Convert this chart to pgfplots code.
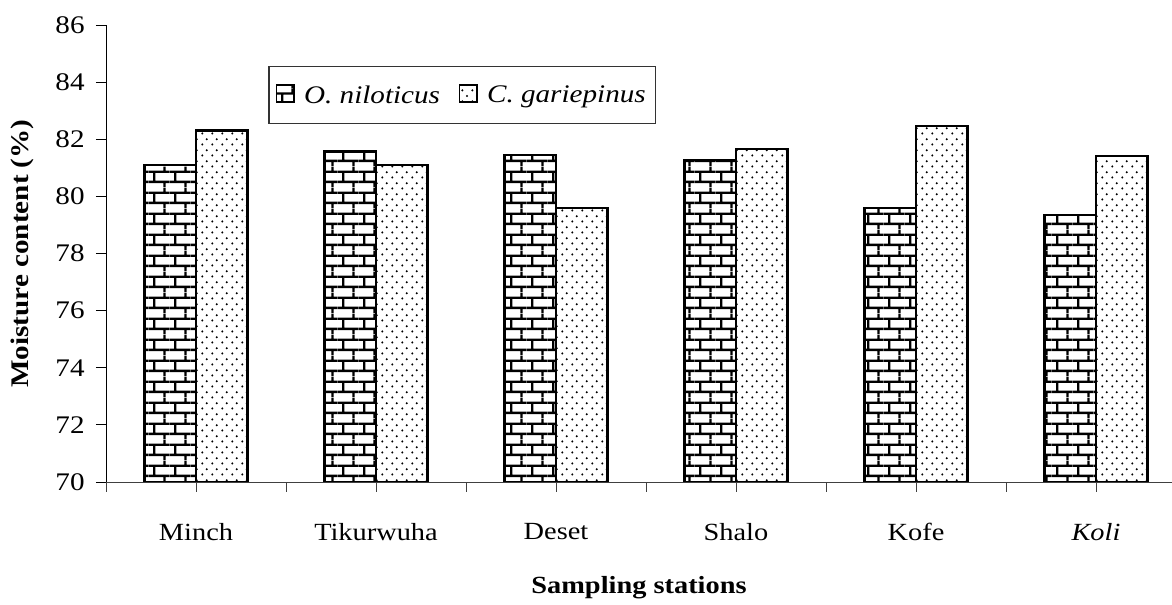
\documentclass[border=0pt]{standalone}
\usepackage{fontspec}
\setmainfont{Liberation Serif}[FakeStretch=1.15]
\usepackage{pgfplots}
\pgfplotsset{compat=1.18}
\usetikzlibrary{patterns}

\pgfdeclarepatternformonly{mybricks}{\pgfpointorigin}{\pgfpoint{16pt}{15.5pt}}{\pgfpoint{16pt}{15.5pt}}{%
  \pgfsetlinewidth{1.8pt}%
  \pgfpathmoveto{\pgfpoint{0pt}{3.875pt}}\pgfpathlineto{\pgfpoint{16pt}{3.875pt}}%
  \pgfpathmoveto{\pgfpoint{0pt}{11.625pt}}\pgfpathlineto{\pgfpoint{16pt}{11.625pt}}%
  \pgfpathmoveto{\pgfpoint{4pt}{3.875pt}}\pgfpathlineto{\pgfpoint{4pt}{11.625pt}}%
  \pgfpathmoveto{\pgfpoint{12pt}{11.625pt}}\pgfpathlineto{\pgfpoint{12pt}{15.5pt}}%
  \pgfpathmoveto{\pgfpoint{12pt}{0pt}}\pgfpathlineto{\pgfpoint{12pt}{3.875pt}}%
  \pgfusepath{stroke}%
}
\pgfdeclarepatternformonly{mydots}{\pgfpointorigin}{\pgfpoint{7.5pt}{8pt}}{\pgfpoint{7.5pt}{8pt}}{%
  \pgfpathcircle{\pgfpoint{1.875pt}{2pt}}{0.9pt}%
  \pgfpathcircle{\pgfpoint{5.625pt}{6pt}}{0.9pt}%
  \pgfusepath{fill}%
}

\begin{document}
\begin{tikzpicture}
\begin{axis}[
  at={(0,0)}, anchor=south west, scale only axis,
  width=799.5pt, height=342.75pt,
  xmin=-0.5, xmax=5.4222, ymin=70, ymax=86,
  axis lines=left, axis line style={-, line width=0.7pt},
  x axis line style={draw=black!75},
  ybar=0pt, bar width=38.6pt,
  ytick={70,72,...,86},
  tick align=outside,
  major tick length=7.5pt,
  tick style={black, line width=0.7pt},
  xtick={-0.5,0.5,...,4.5},
  xticklabels={},
  x tick style={draw=black!75},
  extra x ticks={0,1,2,3,4,5},
  extra x tick labels={Minch,Tikurwuha,Deset,Shalo,Kofe,\textit{Koli}},
  extra x tick style={tick style={draw=none}, xticklabel style={anchor=center, yshift=-30pt}},
  xticklabel style={font=\fontsize{18.5}{20}\selectfont},
  yticklabel style={font=\fontsize{19}{20}\selectfont, xshift=-5pt},
  /pgf/number format/assume math mode=true,
  every axis y label/.style={at={(axis description cs:-0.078,0.5)}, rotate=90, anchor=center, font=\fontsize{19}{20}\selectfont\bfseries},
  every axis x label/.style={at={(axis description cs:0.5,-0.232)}, anchor=center, font=\fontsize{18.5}{20}\selectfont\bfseries},
  ylabel={Moisture content (\%)},
  xlabel={Sampling stations},
  legend style={at={(axis description cs:0.334,0.846)}, anchor=center, draw=black!80, line width=0.8pt,
    font=\fontsize{19}{22}\selectfont\itshape, inner xsep=5pt, inner ysep=12pt,
    /tikz/every odd column/.append style={column sep=5pt},
    /tikz/every even column/.append style={column sep=12pt}},
  legend columns=2,
  legend image code/.code={\draw[#1, line width=1.3pt] (0pt,-5pt) rectangle (13pt,8pt);},
]
\addplot[draw=black, line width=1.8pt, pattern=mybricks] coordinates {(0,81.1) (1,81.57) (2,81.45) (3,81.27) (4,79.6) (5,79.35)};
\addplot[draw=black, line width=1.8pt, pattern=mydots] coordinates {(0,82.3) (1,81.1) (2,79.6) (3,81.66) (4,82.46) (5,81.42)};
\legend{O. niloticus, C. gariepinus}
\end{axis}
\pgfresetboundingbox
\path[use as bounding box] (-79.5pt,-92.25pt) rectangle (799.5pt,361.5pt);
\end{tikzpicture}
\end{document}
